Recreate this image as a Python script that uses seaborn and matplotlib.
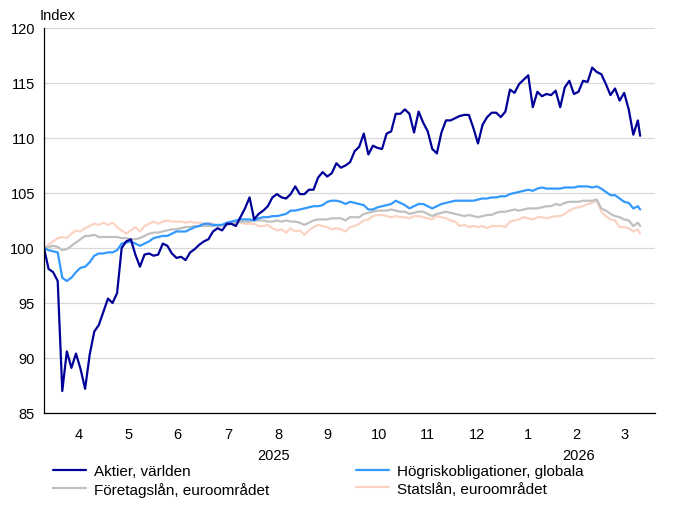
import numpy as np
import pandas as pd
import matplotlib
matplotlib.use("Agg")
import matplotlib.pyplot as plt
import matplotlib.transforms as mtransforms
from matplotlib.lines import Line2D
import seaborn as sns

# ---------------- data ----------------
start_date = "2025-03-26"
end_date = "2026-03-26"
all_days = pd.bdate_range(start_date, end_date)
sample_days = all_days[np.r_[0:len(all_days) - 1:2, len(all_days) - 1]]

aktier = [
    100.0, 98.1, 97.8, 97.0, 87.0, 90.6, 89.1, 90.4, 89.0, 87.2,
    90.3, 92.4, 93.0, 94.2, 95.4, 95.0, 95.9, 100.0, 100.6, 100.8,
    99.4, 98.3, 99.4, 99.5, 99.3, 99.4, 100.4, 100.2, 99.5, 99.1,
    99.2, 98.9, 99.6, 99.9, 100.3, 100.6, 100.8, 101.5, 101.8, 101.6,
    102.2, 102.2, 102.0, 102.8, 103.6, 104.6, 102.6, 103.1, 103.4, 103.8,
    104.6, 104.9, 104.6, 104.5, 104.9, 105.6, 104.9, 104.9, 105.3, 105.3,
    106.4, 106.9, 106.5, 106.8, 107.7, 107.3, 107.5, 107.8, 108.8, 109.2,
    110.4, 108.5, 109.3, 109.1, 109.0, 110.4, 110.6, 112.2, 112.2, 112.6,
    112.2, 110.5, 112.4, 111.4, 110.6, 109.0, 108.6, 110.5, 111.6, 111.6,
    111.8, 112.0, 112.1, 112.1, 110.9, 109.5, 111.2, 111.9, 112.3, 112.3,
    111.9, 112.4, 114.4, 114.1, 114.9, 115.3, 115.7, 112.8, 114.2, 113.8,
    114.0, 113.9, 114.3, 112.8, 114.6, 115.2, 114.0, 114.2, 115.2, 115.1,
    116.4, 116.0, 115.8, 114.9, 113.9, 114.5, 113.4, 114.1, 112.6, 110.3, 111.6,
    110.2,
]
hogrisk = [
    100.0, 99.8, 99.7, 99.6, 97.3, 97.0, 97.3, 97.8, 98.2, 98.3,
    98.7, 99.3, 99.5, 99.5, 99.6, 99.6, 99.8, 100.4, 100.5, 100.6,
    100.4, 100.2, 100.4, 100.6, 100.9, 101.0, 101.1, 101.1, 101.3, 101.5,
    101.5, 101.5, 101.7, 101.9, 102.0, 102.2, 102.2, 102.1, 102.1, 102.1,
    102.3, 102.4, 102.5, 102.6, 102.6, 102.6, 102.5, 102.7, 102.8, 102.8,
    102.9, 102.9, 103.0, 103.1, 103.4, 103.4, 103.5, 103.6, 103.7, 103.8,
    103.8, 103.9, 104.2, 104.3, 104.3, 104.2, 104.0, 104.2, 104.1, 104.0,
    103.9, 103.5, 103.5, 103.7, 103.8, 103.9, 104.0, 104.3, 104.1, 103.9,
    103.6, 103.8, 104.0, 104.0, 103.8, 103.6, 103.8, 104.0, 104.1, 104.2,
    104.3, 104.3, 104.3, 104.3, 104.3, 104.4, 104.5, 104.5, 104.6, 104.6,
    104.7, 104.7, 104.9, 105.0, 105.1, 105.2, 105.3, 105.2, 105.4, 105.5,
    105.4, 105.4, 105.4, 105.4, 105.5, 105.5, 105.5, 105.6, 105.6, 105.6,
    105.5, 105.6, 105.4, 105.1, 104.8, 104.8, 104.5, 104.2, 104.1, 103.6, 103.8,
    103.5,
]
foretag = [
    100.0, 100.1, 100.2, 100.1, 99.8, 99.9, 100.2, 100.5, 100.8, 101.1,
    101.1, 101.2, 101.0, 101.0, 101.0, 101.0, 101.0, 100.9, 100.9, 100.8,
    100.8, 100.9, 101.1, 101.3, 101.4, 101.4, 101.5, 101.6, 101.7, 101.7,
    101.8, 101.9, 101.9, 102.0, 102.0, 102.0, 102.0, 102.0, 102.0, 102.1,
    102.1, 102.2, 102.3, 102.4, 102.4, 102.4, 102.5, 102.5, 102.5, 102.4,
    102.4, 102.5, 102.4, 102.5, 102.4, 102.4, 102.3, 102.1, 102.3, 102.5,
    102.6, 102.6, 102.6, 102.7, 102.7, 102.7, 102.5, 102.8, 102.8, 102.8,
    103.1, 103.2, 103.3, 103.4, 103.4, 103.4, 103.5, 103.4, 103.3, 103.3,
    103.1, 103.2, 103.3, 103.3, 103.1, 102.9, 103.1, 103.2, 103.3, 103.2,
    103.1, 103.0, 102.9, 103.0, 102.9, 102.8, 102.9, 103.0, 103.0, 103.2,
    103.3, 103.3, 103.4, 103.5, 103.4, 103.5, 103.6, 103.6, 103.6, 103.7,
    103.8, 103.8, 104.0, 103.9, 104.1, 104.2, 104.2, 104.2, 104.3, 104.3,
    104.3, 104.4, 103.6, 103.4, 103.1, 102.9, 102.8, 102.6, 102.5, 102.0, 102.3,
    102.0,
]
statslan = [
    100.0, 100.3, 100.6, 100.9, 101.0, 100.9, 101.3, 101.6, 101.5, 101.8,
    102.0, 102.2, 102.1, 102.3, 102.1, 102.3, 101.9, 101.6, 101.3, 101.6,
    101.9, 101.5, 102.0, 102.2, 102.4, 102.2, 102.4, 102.5, 102.4, 102.4,
    102.4, 102.3, 102.4, 102.3, 102.3, 102.2, 102.3, 102.2, 102.0, 102.0,
    102.3, 102.3, 102.4, 102.3, 102.2, 102.2, 102.2, 102.0, 102.0, 102.1,
    101.8, 101.6, 101.7, 101.4, 101.8, 101.5, 101.6, 101.2, 101.6, 101.9,
    102.1, 102.0, 101.9, 101.7, 101.8, 101.7, 101.5, 101.9, 102.0, 102.2,
    102.5, 102.6, 102.9, 103.0, 103.0, 102.9, 102.8, 102.9, 102.8, 102.8,
    102.7, 102.9, 102.9, 102.8, 102.7, 102.6, 102.9, 102.8, 102.7, 102.5,
    102.4, 102.0, 102.1, 101.9, 102.0, 101.9, 102.0, 101.8, 102.0, 102.0,
    102.0, 101.9, 102.4, 102.5, 102.6, 102.8, 102.7, 102.6, 102.8, 102.8,
    102.7, 102.8, 102.9, 102.9, 103.1, 103.4, 103.6, 103.7, 103.8, 104.0,
    104.1, 104.3, 103.3, 102.9, 102.6, 102.5, 101.9, 101.9, 101.8, 101.5, 101.7,
    101.3,
]

series_names = ["Aktier, världen", "Högriskobligationer, globala",
                "Företagslån, euroområdet", "Statslån, euroområdet"]
series_values = [aktier, hogrisk, foretag, statslan]
series_colors = ["#000099", "#3399FF", "#C0C0C0", "#FBD3C3"]

month_labels = ["4", "5", "6", "7", "8", "9", "10", "11", "12", "1", "2", "3"]
year_labels = ["2025", "2026"]
y_ticks = [85, 90, 95, 100, 105, 110, 115, 120]

# ---------------- build frame ----------------
start_np = np.datetime64(start_date)
pos = np.busday_count(start_np, sample_days.values.astype("datetime64[D]"))
frames = []
for name, vals in zip(series_names, series_values):
    frames.append(pd.DataFrame({"Datum": sample_days, "pos": pos,
                                "Index": vals, "Serie": name}))
df = pd.concat(frames, ignore_index=True)

# ---------------- plot ----------------
sns.set_theme(style="white")
plt.rcParams["font.family"] = ["Liberation Sans", "DejaVu Sans"]
plt.rcParams["text.color"] = "black"
plt.rcParams["xtick.color"] = "black"
plt.rcParams["ytick.color"] = "black"

fs_tick = 10.5
fs_text = 11

fig = plt.figure(figsize=(6.8, 5.1), dpi=100)
ax = fig.add_axes([44 / 680, 1 - 414 / 510, 611 / 680, 385 / 510])

palette = dict(zip(series_names, series_colors))
draw_order = [series_names[3], series_names[2], series_names[1], series_names[0]]
sns.lineplot(data=df, x="pos", y="Index", hue="Serie", hue_order=draw_order,
             palette=palette, linewidth=1.6, legend=False, ax=ax,
             estimator=None, sort=False)

month_starts = pd.date_range("2025-04-01", "2026-04-01", freq="MS")
bounds = np.busday_count(start_np, month_starts.values.astype("datetime64[D]"))
centers = (bounds[:-1] + bounds[1:]) / 2.0

x_max = 267.5
ax.set_xlim(0, x_max)
ax.set_ylim(85, 120)
ax.set_yticks(y_ticks)
ax.set_xticks(bounds)
ax.set_xticklabels([])
ax.set_xticks(centers, minor=True)
ax.set_xticklabels(month_labels, minor=True)
ax.tick_params(axis="x", which="major", length=5, width=0.8, direction="out")
ax.tick_params(axis="x", which="minor", length=0, pad=10, labelsize=fs_tick)
ax.tick_params(axis="y", length=5, width=0.8, direction="out", pad=1.5, labelsize=fs_tick)
ax.set_xlabel("")
ax.set_ylabel("")

ax.yaxis.grid(True, color="#D9D9D9", linewidth=0.9)
ax.set_axisbelow(True)
for s in ["top", "right"]:
    ax.spines[s].set_visible(False)
for s in ["left", "bottom"]:
    ax.spines[s].set_color("black")
    ax.spines[s].set_linewidth(0.9)

jan_pos = bounds[9]
trans = mtransforms.blended_transform_factory(ax.transData, ax.transAxes)
ax.text((0 + jan_pos) / 2, -0.109, year_labels[0], transform=trans,
        ha="center", va="center", fontsize=fs_tick)
ax.text((jan_pos + x_max) / 2, -0.109, year_labels[1], transform=trans,
        ha="center", va="center", fontsize=fs_tick)

fig.text(40 / 680, 1 - 16 / 510, "Index", ha="left", va="center", fontsize=fs_tick)

leg_order = [0, 2, 1, 3]
handles = [Line2D([0], [0], color=series_colors[k], lw=1.6) for k in leg_order]
labels = [series_names[k] for k in leg_order]
fig.legend(handles, labels, ncol=2, loc="upper left",
           bbox_to_anchor=(53 / 680, 1 - 465 / 510), frameon=False,
           fontsize=fs_text, handlelength=2.16, handletextpad=0.5,
           columnspacing=5.7, labelspacing=0.25, borderaxespad=0, borderpad=0)

fig.savefig("out.png", dpi=100)
